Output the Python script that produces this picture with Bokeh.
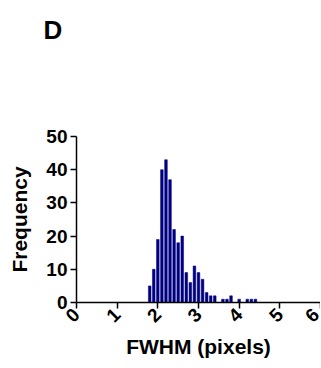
import math
from bokeh.plotting import figure
from bokeh.models import Range1d, FixedTicker, Title
from bokeh.embed import file_html
from bokeh.resources import INLINE

bin_centers = [1.8, 1.9, 2.0, 2.1, 2.2, 2.3, 2.4, 2.5, 2.6, 2.7, 2.8, 2.9, 3.0, 3.1,
               3.2, 3.3, 3.4, 3.5, 3.6, 3.7, 3.8, 3.9, 4.0, 4.1, 4.2, 4.3, 4.4]
frequency = [5, 10, 19, 40, 43, 37, 22, 18, 20, 9, 6, 11, 9, 7,
             3, 2, 2, 0, 1, 1, 2, 0, 1, 0, 1, 1, 1]
x_ticks = [0, 1, 2, 3, 4, 5, 6]
y_ticks = [0, 10, 20, 30, 40, 50]

FONT = "Liberation Sans"

p = figure(width=320, height=366, output_backend="svg", toolbar_location=None,
           x_range=Range1d(0, 6), y_range=Range1d(0, 50),
           min_border_left=76, min_border_right=0, min_border_top=136, min_border_bottom=64)
p.outline_line_color = None
p.xgrid.visible = False
p.ygrid.visible = False
p.background_fill_color = "white"
p.border_fill_color = "white"

spacer = Title(text=" ", text_font=FONT, text_font_size="26px", standoff=48)
p.add_layout(spacer, "above")

p.title.text = "D"
p.title.text_font = FONT
p.title.text_font_style = "bold"
p.title.text_font_size = "26px"
p.title.text_color = "black"
p.title.align = "left"
p.title.offset = -33
p.title.standoff = 24

p.vbar(x=bin_centers, top=frequency, width=0.065, bottom=0,
       fill_color="#000080", line_color="#000080", line_width=0.5)

for ax in (p.xaxis[0], p.yaxis[0]):
    ax.axis_line_width = 1.5
    ax.axis_line_color = "black"
    ax.major_tick_line_width = 1.5
    ax.major_tick_line_color = "black"
    ax.major_tick_in = 0
    ax.major_tick_out = 6
    ax.minor_tick_line_color = None
    ax.major_label_text_font = FONT
    ax.major_label_text_font_style = "bold"
    ax.major_label_text_font_size = "19px"
    ax.major_label_text_color = "black"
    ax.axis_label_text_font = FONT
    ax.axis_label_text_font_style = "bold"
    ax.axis_label_text_font_size = "21px"
    ax.axis_label_text_color = "black"

p.xaxis.ticker = FixedTicker(ticks=x_ticks)
p.yaxis.ticker = FixedTicker(ticks=y_ticks)
p.xaxis.major_label_orientation = math.pi / 4
p.xaxis.major_label_standoff = 3
p.yaxis.major_label_standoff = 3
p.xaxis.axis_label = "FWHM (pixels)"
p.yaxis.axis_label = "Frequency"
p.xaxis.axis_label_standoff = 4
p.yaxis.axis_label_standoff = 12

open("out.html", "w").write(file_html(p, INLINE))
